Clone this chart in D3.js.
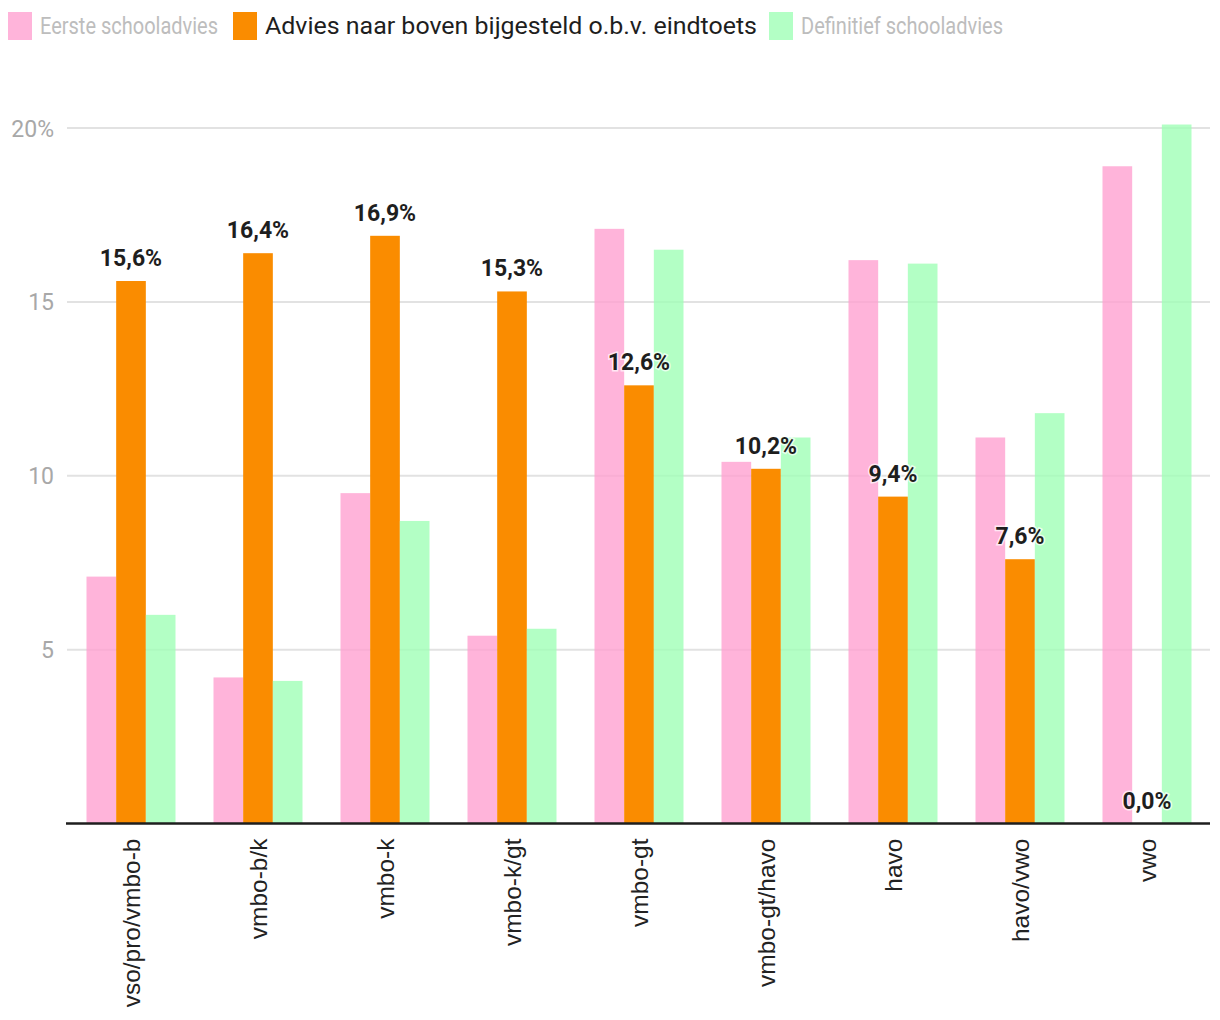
<!DOCTYPE html>
<html><head><meta charset="utf-8">
<script src="https://cdn.jsdelivr.net/npm/d3@7"></script>
<style>body{margin:0;background:#fff;font-family:Roboto,"Noto Sans",sans-serif;}</style>
</head><body><svg id="c" width="1220" height="1020"></svg>
<script>
const categories = ["vso/pro/vmbo-b","vmbo-b/k","vmbo-k","vmbo-k/gt","vmbo-gt","vmbo-gt/havo","havo","havo/vwo","vwo"];
const seriesNames = ["Eerste schooladvies","Advies naar boven bijgesteld o.b.v. eindtoets","Definitief schooladvies"];
const eersteAdvies = [7.1,4.2,9.5,5.4,17.1,10.4,16.2,11.1,18.9];
const bijgesteld = [15.6,16.4,16.9,15.3,12.6,10.2,9.4,7.6,0.0];
const definitiefAdvies = [6.0,4.1,8.7,5.6,16.5,11.1,16.1,11.8,20.1];
const yTicks = [5,10,15,20];

const colors = ["#ff9fcf","#fa8c00","#a0ffb6"];
const opac = [0.78,1,0.8];
const seriesValues = [eersteAdvies,bijgesteld,definitiefAdvies];

const svg = d3.select("#c");
const plotLeft = 67.5, plotRight = 1210.5, plotTop = 128, plotBottom = 823.5;
const x0 = d3.scaleBand().domain(categories).range([plotLeft,plotRight]).padding(0);
const x1 = d3.scaleBand().domain([0,1,2]).range([19,108]).padding(0);
const y = d3.scaleLinear().domain([0,20]).range([plotBottom, plotTop]);

// grid
svg.append("g").selectAll("line").data(yTicks).join("line")
  .attr("x1",67).attr("x2",1210)
  .attr("y1",d=>y(d)).attr("y2",d=>y(d))
  .attr("stroke","#e2e2e2").attr("stroke-width",2);

// y axis labels
const yAxis = d3.axisLeft(y).tickValues(yTicks).tickSize(0).tickPadding(0)
  .tickFormat(d => d===20 ? "20%" : d);
svg.append("g").attr("transform","translate(54,0)").call(yAxis)
  .call(a=>a.select(".domain").remove())
  .selectAll("text").attr("font-family","Roboto").attr("font-size",23).attr("fill","#a8a8a8").attr("dy","0.35em");

// bars
const groups = svg.append("g").selectAll("g").data(categories).join("g")
  .attr("transform",d=>`translate(${x0(d)},0)`);
groups.selectAll("rect").data((d,i)=>seriesValues.map((s,k)=>({k,v:s[i]}))).join("rect")
  .attr("x",d=>x1(d.k)).attr("width",x1.bandwidth())
  .attr("y",d=>y(d.v)).attr("height",d=>plotBottom-y(d.v))
  .attr("fill",d=>colors[d.k]).attr("fill-opacity",d=>opac[d.k]);

// baseline
svg.append("line").attr("x1",66).attr("x2",1210).attr("y1",plotBottom).attr("y2",plotBottom)
  .attr("stroke","#1e1e1e").attr("stroke-width",2.5);

// value labels on orange
svg.append("g").selectAll("text").data(categories).join("text")
  .attr("x",(d)=>x0(d)+x1(1)+x1.bandwidth()/2)
  .attr("y",(d,i)=>y(bijgesteld[i])-15)
  .attr("text-anchor","middle")
  .attr("font-family","Roboto").attr("font-weight","bold").attr("font-size",23)
  .attr("fill","#1e1e1e").attr("stroke","#fff").attr("stroke-width",3).attr("stroke-opacity",0.7)
  .attr("paint-order","stroke")
  .text((d,i)=>bijgesteld[i].toFixed(1).replace(".",",")+"%");

// x axis labels
const xAxis = d3.axisBottom(x0).tickSize(0).tickPadding(0);
svg.append("g").attr("transform",`translate(0,${plotBottom})`).call(xAxis)
  .call(a=>a.select(".domain").remove())
  .selectAll("text")
  .attr("font-family","Liberation Sans, Arial, sans-serif").attr("font-size",24.5).attr("fill","#222")
  .attr("transform","rotate(-90)").attr("text-anchor","end")
  .attr("x",-15).attr("y",0).attr("dy","0.35em");

// legend
const legendX = [8,233,769];
const legendLen = [178,492,202];
const lg = svg.append("g").selectAll("g").data(seriesNames).join("g")
  .attr("transform",(d,i)=>`translate(${legendX[i]},12)`);
lg.append("rect").attr("width",24).attr("height",28).attr("fill",(d,i)=>colors[i]).attr("fill-opacity",(d,i)=>opac[i]);
lg.append("text").attr("x",32).attr("y",14).attr("dy","0.35em")
  .attr("font-family","Roboto").attr("font-size",23)
  .attr("textLength",(d,i)=>legendLen[i]).attr("lengthAdjust","spacingAndGlyphs")
  .attr("fill",(d,i)=>i===1?"#1e1e1e":"#bdbdbd").text(d=>d);
</script></body></html>
